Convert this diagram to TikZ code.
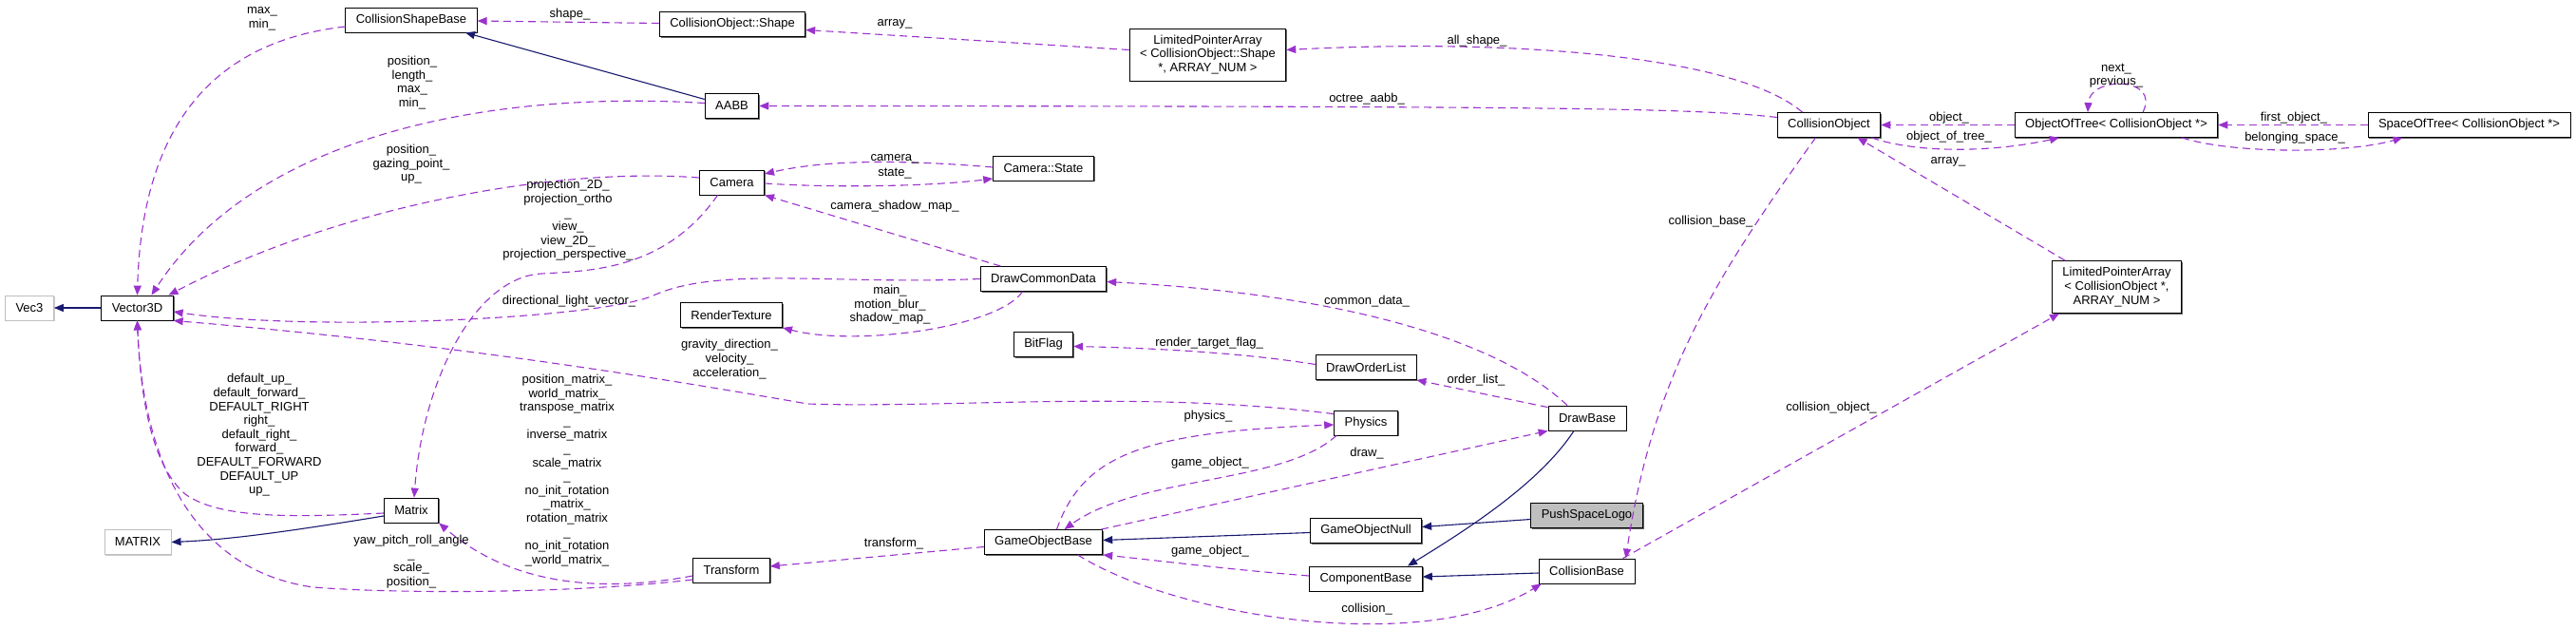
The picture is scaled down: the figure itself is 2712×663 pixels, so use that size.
\documentclass[tikz,border=0pt]{standalone}
\usepackage{fontspec}
\setmainfont{Liberation Sans}
\usetikzlibrary{arrows.meta,shadows}
\definecolor{memcol}{HTML}{9A32CD}
\definecolor{inhcol}{HTML}{191970}
\tikzset{
  cls/.style={draw=black, fill=white, line width=0.8pt, inner xsep=11pt, inner ysep=0pt,
    minimum height=26pt, font=\fontsize{13}{14.6}\selectfont,
    drop shadow={shadow xshift=1.3pt, shadow yshift=-1.3pt, fill=black!60, opacity=1}},
  cls3/.style={cls, minimum height=55pt, align=center},
  undoc/.style={cls, draw=black!25,
    drop shadow={shadow xshift=1.3pt, shadow yshift=-1.3pt, fill=black!20, opacity=1}},
  hl/.style={cls, fill=black!25},
  mem/.style={draw=memcol, line width=1.1pt, dash pattern=on 8pt off 5pt,
    -{Triangle[length=10pt,width=8pt,fill=memcol]}},
  inh/.style={draw=inhcol, line width=1.1pt, -{Triangle[length=10pt,width=8pt,fill=inhcol]}},
  lbl/.style={inner sep=0pt, align=center, font=\fontsize{13}{14.6}\selectfont}
}
\begin{document}
\begin{tikzpicture}[x=1pt, y=-1pt]
  \useasboundingbox (0,0) rectangle (2712,663);
  % classes
  \node[undoc] (vec3) at (31,324) {Vec3};
  \node[cls] (v3d) at (144.5,324) {Vector3D};
  \node[undoc] (mx) at (145,570.5) {MATRIX};
  \node[cls] (csb) at (433,21) {CollisionShapeBase};
  \node[cls] (mat) at (433,537) {Matrix};
  \node[cls] (shp) at (771,25.5) {CollisionObject::Shape};
  \node[cls] (aabb) at (770.5,111.5) {AABB};
  \node[cls] (cam) at (770.5,192) {Camera};
  \node[cls] (rt) at (770,331.5) {RenderTexture};
  \node[cls] (tr) at (770,600) {Transform};
  \node[cls] (cs) at (1098.5,177) {Camera::State};
  \node[cls] (dcd) at (1098.5,293.5) {DrawCommonData};
  \node[cls] (bf) at (1098.5,362.5) {BitFlag};
  \node[cls] (gob) at (1098.5,570.5) {GameObjectBase};
  \node[cls3] (lpas) at (1271.5,57.5) {LimitedPointerArray\hfill\\< CollisionObject::Shape\hfill\\ *, ARRAY\_NUM >};
  \node[cls] (dol) at (1438,386.5) {DrawOrderList};
  \node[cls] (phys) at (1438,445) {Physics};
  \node[cls] (gon) at (1438,558.5) {GameObjectNull};
  \node[cls] (cb) at (1438,609) {ComponentBase};
  \node[cls] (db) at (1671,440) {DrawBase};
  \node[hl] (psl) at (1670.5,542.5) {PushSpaceLogo};
  \node[cls] (cbase) at (1670.5,601) {CollisionBase};
  \node[cls] (co) at (1925.5,131.5) {CollisionObject};
  \node[cls] (oot) at (2228,131.5) {ObjectOfTree< CollisionObject *>};
  \node[cls3] (lpao) at (2228.5,302) {LimitedPointerArray\hfill\\< CollisionObject *,\hfill\\ARRAY\_NUM >};
  \node[cls] (sot) at (2599.5,131.5) {SpaceOfTree< CollisionObject *>};
  % inheritance
  \draw[inh] (v3d.west) -- (vec3.east);
  \draw[inh] ([yshift=7pt]aabb.west) -- ([xshift=57pt]csb.south);
  \draw[inh] ([yshift=-6pt]mat.west) .. controls (300,560) and (240,568) .. (mx.east);
  \draw[inh] ([yshift=-2pt]gon.west) -- ([yshift=2pt]gob.east);
  \draw[inh] ([yshift=-4pt]psl.west) -- ([yshift=4pt]gon.east);
  \draw[inh] ([yshift=-2pt]cbase.west) -- ([yshift=2pt]cb.east);
  \draw[inh] ([xshift=-14pt]db.south) .. controls (1620,510) and (1540,560) .. ([xshift=44pt]cb.north);
  % members
  \draw[mem] ([yshift=-7pt]csb.west) .. controls (240,42) and (150,115) .. (v3d.north);
  \node[lbl] (lmaxmin) at (276,20) {max\_\\min\_};
  \draw[mem] ([yshift=3pt]aabb.west) .. controls (520,95) and (270,140) .. ([xshift=15pt]v3d.north);
  \node[lbl] (laabb) at (434,87) {position\_\\length\_\\max\_\\min\_};
  \draw[mem] ([yshift=5pt]cam.west) .. controls (580,175) and (350,220) .. ([xshift=33pt]v3d.north);
  \node[lbl] (lcamv) at (433,173) {position\_\\gazing\_point\_\\up\_};
  \draw[mem] ([xshift=-15pt]cam.south) .. controls (700,285) and (620,285) .. (570,288)
    .. controls (500,292) and (445,400) .. ([xshift=3pt]mat.north);
  \node[lbl] (lcamm) at (598,232) {projection\_2D\_\\projection\_ortho\hfill\\\_\\view\_\\view\_2D\_\\projection\_perspective\_};
  \draw[mem] ([yshift=1pt]cs.west) .. controls (950,168) and (870,168) .. ([yshift=9pt]cam.east);
  \node[lbl] (lcamera) at (942,167) {camera\_};
  \draw[mem] ([yshift=-1pt]cam.east) .. controls (880,198) and (980,196) .. ([yshift=-11pt]cs.west);
  \node[lbl] (lstate) at (942,183) {state\_};
  \draw[mem] ([xshift=-45pt]dcd.north) -- (cam.south east);
  \node[lbl] (lcsm) at (942,217) {camera\_shadow\_map\_};
  \draw[mem] (dcd.west) .. controls (880,300) and (760,280) .. (690,310)
    .. controls (640,335) and (330,350) .. ([yshift=-4pt]v3d.east);
  \node[lbl] (ldlv) at (599,317) {directional\_light\_vector\_};
  \draw[mem] ([xshift=-22pt]dcd.south) .. controls (1050,345) and (900,365) .. (rt.south east);
  \node[lbl] (lrt) at (937,321) {main\_\\motion\_blur\_\\shadow\_map\_};
  \draw[mem] ([yshift=-4pt]phys.north west) .. controls (1200,410) and (1000,430) .. (850,425)
    .. controls (650,390) and (450,360) .. (v3d.south east);
  \node[lbl] (lphysv) at (768,378) {gravity\_direction\_\\velocity\_\\acceleration\_};
  \draw[mem] ([yshift=-6pt]tr.west) .. controls (600,630) and (520,600) .. (mat.south east);
  \node[lbl] (ltrm) at (597,495) {position\_matrix\_\\world\_matrix\_\\transpose\_matrix\hfill\\\_\\inverse\_matrix\hfill\\\_\\scale\_matrix\hfill\\\_\\no\_init\_rotation\hfill\\\_matrix\_\\rotation\_matrix\hfill\\\_\\no\_init\_rotation\hfill\\\_world\_matrix\_};
  \draw[mem] ([yshift=-10pt]tr.west) .. controls (600,625) and (420,625) .. (330,618)
    .. controls (200,600) and (150,480) .. (v3d.south);
  \node[lbl] (ltrv) at (433,591) {yaw\_pitch\_roll\_angle\\\_\\scale\_\\position\_};
  \draw[mem] ([yshift=-3pt]mat.west) .. controls (300,545) and (230,545) .. (195,520)
    .. controls (160,490) and (148,420) .. (v3d.south);
  \node[lbl] (lmatv) at (273,458) {default\_up\_\\default\_forward\_\\DEFAULT\_RIGHT\\right\_\\default\_right\_\\forward\_\\DEFAULT\_FORWARD\\DEFAULT\_UP\\up\_};
  \draw[mem] ([yshift=-5pt]gob.west) -- ([yshift=4pt]tr.east);
  \node[lbl] (ltransform) at (941,572) {transform\_};
  \draw[mem] ([xshift=14pt]gob.north) .. controls (1140,480) and (1200,455) .. ([yshift=-2pt]phys.west);
  \node[lbl] (lphysics) at (1272,438) {physics\_};
  \draw[mem] ([xshift=-31pt]phys.south) .. controls (1350,510) and (1200,500) .. ([xshift=22pt]gob.north);
  \node[lbl] (lgo1) at (1274,487) {game\_object\_};
  \draw[mem] ([xshift=-2pt]gob.north east) -- (db.south west);
  \node[lbl] (ldraw) at (1439,477) {draw\_};
  \draw[mem] ([xshift=-21pt]db.north) .. controls (1580,360) and (1420,310) .. ([yshift=-3pt]dcd.east);
  \node[lbl] (lcd) at (1439,317) {common\_data\_};
  \draw[mem] ([yshift=3pt]dol.west) .. controls (1300,370) and (1200,366) .. ([yshift=-2pt]bf.east);
  \node[lbl] (lrtf) at (1273,361) {render\_target\_flag\_};
  \draw[mem] ([yshift=-2pt]db.north west) -- (dol.south east);
  \node[lbl] (lol) at (1554,400) {order\_list\_};
  \draw[mem] ([yshift=3pt]cb.west) .. controls (1300,600) and (1220,590) .. (gob.south east);
  \node[lbl] (lgo2) at (1274,580) {game\_object\_};
  \draw[mem] ([xshift=36pt]gob.south) .. controls (1240,650) and (1500,690) .. ([xshift=3pt]cbase.south west);
  \node[lbl] (lcoll) at (1439,641) {collision\_};
  \draw[mem] ([xshift=-14pt]co.south) .. controls (1800,300) and (1740,400) .. ([xshift=41pt]cbase.north);
  \node[lbl] (lcb) at (1801,233) {collision\_base\_};
  \draw[mem] ([xshift=38pt]cbase.north) -- ([xshift=8pt]lpao.south west);
  \node[lbl] (lco) at (1928,429) {collision\_object\_};
  \draw[mem] ([xshift=-28pt]co.north) .. controls (1830,60) and (1600,40) .. ([yshift=5pt]lpas.east);
  \node[lbl] (lall) at (1555,43) {all\_shape\_};
  \draw[mem] ([yshift=8pt]co.west) .. controls (1780,113) and (1600,112) .. (aabb.east);
  \node[lbl] (loct) at (1439,104) {octree\_aabb\_};
  \draw[mem] ([yshift=5pt]lpas.west) -- ([yshift=-6pt]shp.east);
  \node[lbl] (larr1) at (942,25) {array\_};
  \draw[mem] ([yshift=1pt]shp.west) -- ([yshift=-1pt]csb.east);
  \node[lbl] (lshape) at (600,15) {shape\_};
  \draw[mem] (oot.west) -- (co.east);
  \node[lbl] (lobj) at (2052,124) {object\_};
  \draw[mem] ([xshift=-10pt]co.south east) .. controls (2020,162) and (2100,160) .. ([xshift=-60pt]oot.south);
  \node[lbl] (loot) at (2052,144) {object\_of\_tree\_};
  \draw[mem] ([xshift=28pt]oot.north) .. controls (2275,80) and (2200,80) .. ([xshift=-30pt]oot.north);
  \node[lbl] (lnext) at (2228,79.5) {next\_\\previous\_};
  \draw[mem] (sot.west) -- (oot.east);
  \node[lbl] (lfirst) at (2415,124) {first\_object\_};
  \draw[mem] ([xshift=69pt]oot.south) .. controls (2350,162) and (2470,162) .. ([xshift=-70pt]sot.south);
  \node[lbl] (lbel) at (2416,145) {belonging\_space\_};
  \draw[mem] ([xshift=14pt]lpao.north west) -- ([xshift=30pt]co.south);
  \node[lbl] (larr2) at (2051,170) {array\_};
\end{tikzpicture}
\end{document}
